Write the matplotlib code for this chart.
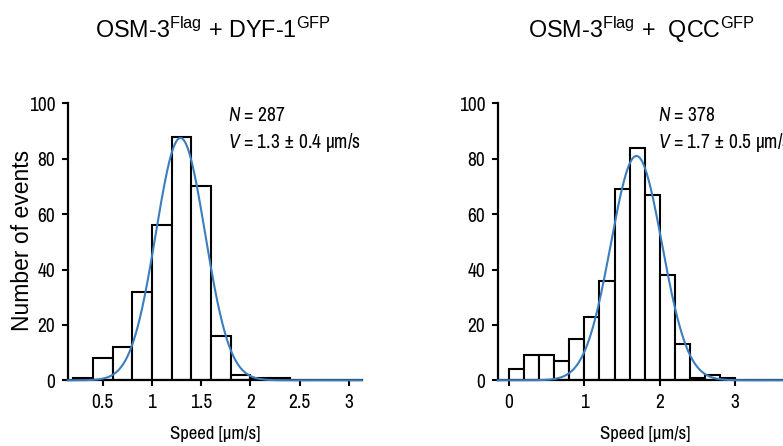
import numpy as np
import matplotlib
matplotlib.use("Agg")
import matplotlib.pyplot as plt

NARROW = "Archivo Narrow"
SANS = "Liberation Sans"
plt.rcParams["font.family"] = [NARROW, SANS, "DejaVu Sans"]
plt.rcParams["mathtext.fontset"] = "custom"
plt.rcParams["mathtext.rm"] = SANS
plt.rcParams["mathtext.it"] = NARROW + ":italic"

# Histogram data (bin start in µm/s, counts per bin)
bin_width = 0.2
dyf1_edges_start = [0.2, 0.4, 0.6, 0.8, 1.0, 1.2, 1.4, 1.6, 1.8, 2.0, 2.2]
dyf1_counts = [1, 8, 12, 32, 56, 88, 70, 16, 2, 1, 1]
qcc_edges_start = [0.0, 0.2, 0.4, 0.6, 0.8, 1.0, 1.2, 1.4, 1.6, 1.8, 2.0, 2.2, 2.4, 2.6, 2.8]
qcc_counts = [4, 9, 9, 7, 15, 23, 36, 69, 84, 67, 38, 13, 1, 2, 1]

# Gaussian fit parameters: amplitude, mean, sigma
dyf1_fit = (87.5, 1.29, 0.25)
qcc_fit = (81.0, 1.69, 0.34)

titles = [r"OSM-3$^{\mathrm{Flag}}$ + DYF-1$^{\mathrm{GFP}}$",
          r"OSM-3$^{\mathrm{Flag}}$ +  QCC$^{\mathrm{GFP}}$"]
n_labels = [r"$\it{N}$ = 287", r"$\it{N}$ = 378"]
v_labels = [r"$\it{V}$ = 1.3 ± 0.4 µm/s", r"$\it{V}$ = 1.7 ± 0.5 µm/s"]

W, H = 783, 446
fig = plt.figure(figsize=(W / 100, H / 100), dpi=100)

def px_axes(x0, x1, ytop, ybot):
    return fig.add_axes([x0 / W, 1 - ybot / H, (x1 - x0) / W, (ybot - ytop) / H])

ax1 = px_axes(67.7, 361.7, 103.3, 380.3)
ax2 = px_axes(497.7, 791.7, 103.3, 380.3)

panels = [
    (ax1, dyf1_edges_start, dyf1_counts, dyf1_fit, (0.145, 3.13), [0.5, 1, 1.5, 2, 2.5, 3]),
    (ax2, qcc_edges_start, qcc_counts, qcc_fit, (-0.15, 3.75), [0, 1, 2, 3]),
]

blue = "#3b7dbd"
for i, (ax, starts, counts, fit, xlim, xt) in enumerate(panels):
    ax.bar(starts, counts, width=bin_width, align="edge", facecolor="white",
           edgecolor="black", linewidth=1.5, zorder=2)
    xs = np.linspace(xlim[0], xlim[1], 600)
    a, mu, sd = fit
    ax.plot(xs, a * np.exp(-(xs - mu) ** 2 / (2 * sd ** 2)), color=blue, lw=1.5, zorder=3,
            clip_on=False)
    ax.set_xlim(*xlim)
    ax.set_ylim(0, 100)
    ax.set_yticks([0, 20, 40, 60, 80, 100])
    ax.set_xticks(xt)
    ax.set_xticklabels([f"{t:g}" for t in xt])
    for s in ("top", "right"):
        ax.spines[s].set_visible(False)
    for s in ("left", "bottom"):
        ax.spines[s].set_linewidth(1.6)
    ax.tick_params(direction="out", length=4, width=1.5, labelsize=14, pad=5)
    ax.set_xlabel("Speed [µm/s]", fontsize=13.5, labelpad=10)
    ax.text(0.545, 0.955, n_labels[i], transform=ax.transAxes, fontsize=14, va="center")
    ax.text(0.545, 0.86, v_labels[i], transform=ax.transAxes, fontsize=14, va="center")

# panel titles above each histogram
for x_px, t in zip((213, 641), titles):
    fig.text(x_px / W, 1 - 30 / H, t, fontsize=16.8, family=SANS, ha="center", va="center")

# shared y-axis label
fig.text(23 / W, 1 - 240 / H, "Number of events", fontsize=16.5, family=SANS,
         rotation=90, ha="center", va="center")

fig.savefig("out.png", dpi=100)
